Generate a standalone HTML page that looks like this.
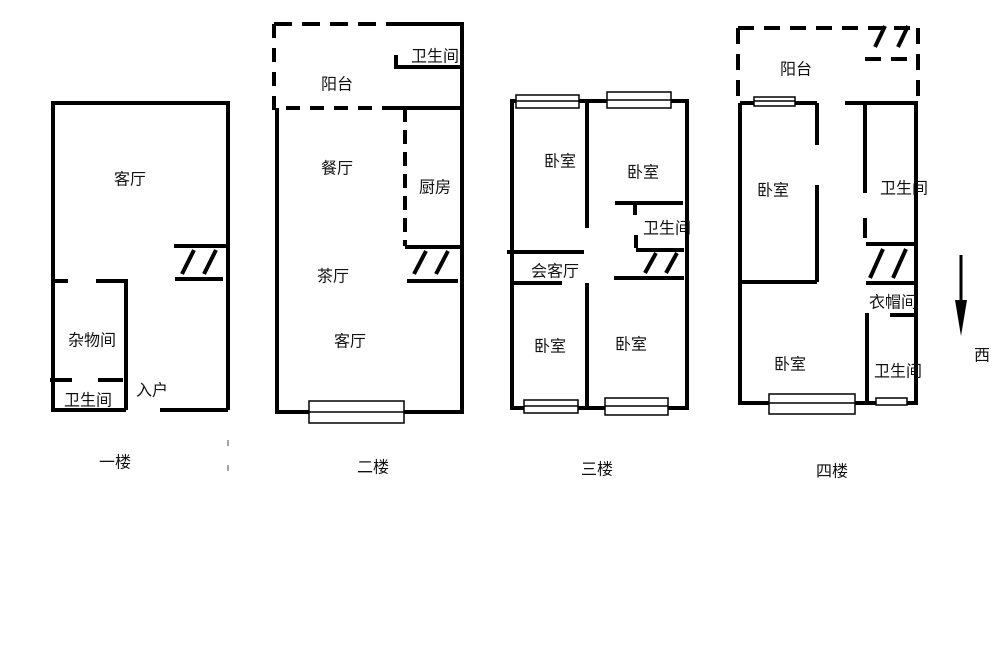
<!DOCTYPE html>
<html><head><meta charset="utf-8"><style>
html,body{margin:0;padding:0;background:#fff;}
svg{display:block}
text{font-family:"Liberation Sans","Noto Sans CJK SC",sans-serif;font-size:16px;fill:#111;text-anchor:middle;dominant-baseline:central}
</style></head><body>
<svg width="1000" height="664" viewBox="0 0 1000 664" xmlns="http://www.w3.org/2000/svg">
<g stroke="#000" stroke-width="4" fill="none" stroke-linecap="butt">
<!-- Floor 1 -->
<path d="M53 103H228V410M53 101V410H126M160 410H228"/>
<path d="M53 281H68M96 281H126V410"/>
<path d="M50 380H72M98 380H123"/>
<path d="M174 246H228M175 279H223M182 274L194 250M204 274L216 250"/>
<path d="M228 440V446M228 465V471" stroke-width="1.5" stroke="#888"/>
<!-- Floor 2 -->
<path d="M274 24H396" stroke-dasharray="18,10"/>
<path d="M396 24H462V412H277V108"/>
<path d="M274 24V108H396" stroke-dasharray="14,10"/>
<path d="M396 108H462"/>
<path d="M396 55V67H462"/>
<path d="M405 108V246" stroke-dasharray="14,8"/>
<path d="M405 247H462M407 281H458M414 274L426 251M436 274L448 251"/>
<!-- Floor 3 -->
<path d="M512 101H687V408H512Z"/>
<path d="M587 101V228M587 283V408M507 252H584M512 283H562"/>
<path d="M615 203H683M635 203V215M636 235V248"/>
<path d="M636 250H684M614 278H684M645 273L656 253M666 273L677 253"/>
<!-- Floor 4 -->
<path d="M738 28H918M738 28V100M918 28V100M865 59H918" stroke-dasharray="16,10"/>
<path d="M740 103H817M845 103H918M740 103V403H916V103"/>
<path d="M817 103V145M817 185V282M740 282H817"/>
<path d="M865 103V193M865 218V238"/>
<path d="M866 244H915M866 283H915M870 278L883 249M893 278L906 249"/>
<path d="M875 47L885 26M898 47L908 26"/>
<path d="M867 313V403M890 315H915"/>
</g>
<g stroke="#000" stroke-width="1.5" fill="#fff">
<rect x="309" y="401" width="95" height="22"/><line x1="309" y1="412" x2="404" y2="412"/>
<rect x="516" y="95" width="63" height="13"/><line x1="516" y1="101" x2="579" y2="101"/>
<rect x="607" y="92" width="64" height="16"/><line x1="607" y1="100" x2="671" y2="100"/>
<rect x="524" y="400" width="54" height="13"/><line x1="524" y1="406" x2="578" y2="406"/>
<rect x="605" y="398" width="63" height="17"/><line x1="605" y1="406" x2="668" y2="406"/>
<rect x="754" y="97" width="41" height="9"/><line x1="754" y1="101" x2="795" y2="101"/>
<rect x="769" y="394" width="86" height="20"/><line x1="769" y1="403" x2="855" y2="403"/>
<rect x="876" y="398" width="31" height="7"/>
</g>
<line x1="961" y1="255" x2="961" y2="315" stroke="#000" stroke-width="3"/>
<polygon points="955,300 967,300 961,336" fill="#000"/>
<text x="130" y="180">客厅</text>
<text x="92" y="341">杂物间</text>
<text x="88" y="401">卫生间</text>
<text x="152" y="391">入户</text>
<text x="115" y="463">一楼</text>
<text x="337" y="85">阳台</text>
<text x="435" y="57">卫生间</text>
<text x="337" y="169">餐厅</text>
<text x="435" y="188">厨房</text>
<text x="333" y="277">茶厅</text>
<text x="350" y="342">客厅</text>
<text x="373" y="468">二楼</text>
<text x="560" y="162">卧室</text>
<text x="643" y="173">卧室</text>
<text x="550" y="347">卧室</text>
<text x="631" y="345">卧室</text>
<text x="667" y="229">卫生间</text>
<text x="555" y="272">会客厅</text>
<text x="597" y="470">三楼</text>
<text x="796" y="70">阳台</text>
<text x="773" y="191">卧室</text>
<text x="790" y="365">卧室</text>
<text x="904" y="189">卫生间</text>
<text x="893" y="303">衣帽间</text>
<text x="898" y="372">卫生间</text>
<text x="832" y="472">四楼</text>
<text x="982" y="356">西</text>
</svg>
</body></html>
